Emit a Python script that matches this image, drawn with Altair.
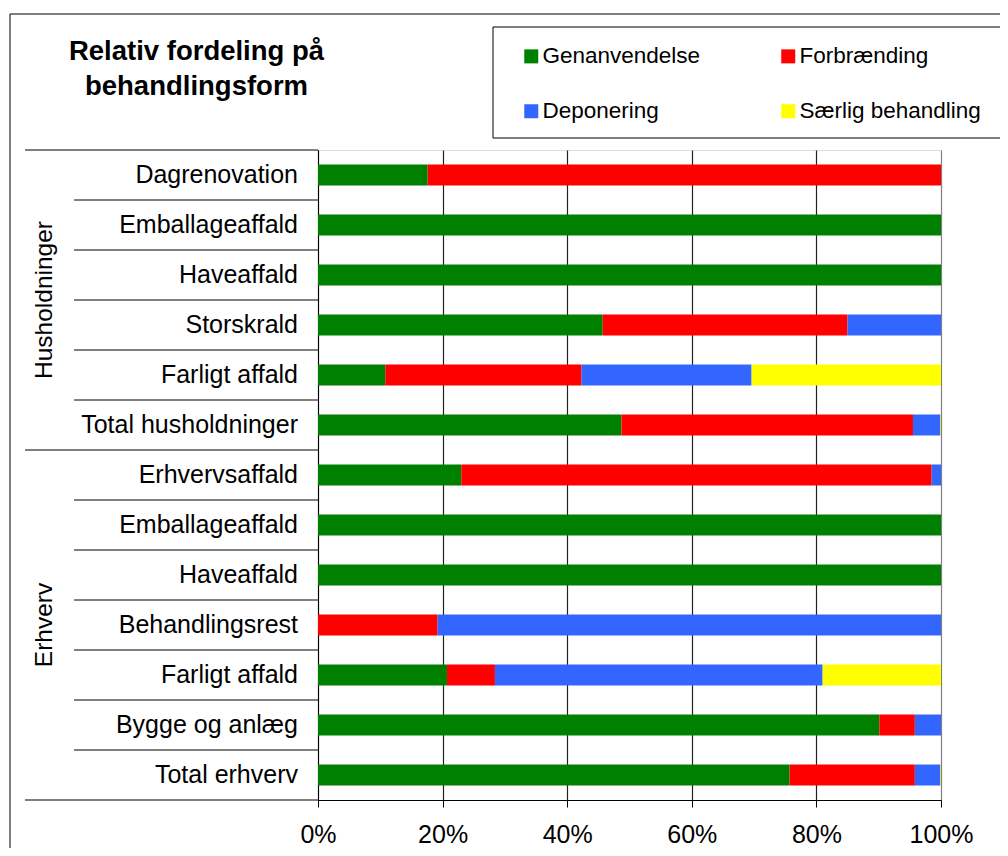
import altair as alt
import pandas as pd

FONT = "Liberation Sans"

categories = ["Dagrenovation", "Emballageaffald", "Haveaffald", "Storskrald",
              "Farligt affald", "Total husholdninger",
              "Erhvervsaffald", "Emballageaffald", "Haveaffald", "Behandlingsrest",
              "Farligt affald", "Bygge og anlæg", "Total erhverv"]
group_names = ["Husholdninger", "Erhverv"]
group_sizes = [6, 7]
forms = ["Genanvendelse", "Forbrænding", "Deponering", "Særlig behandling"]
colors = ["#008000", "#FF0000", "#3366FF", "#FFFF00"]

genanvendelse = [17.6, 100, 100, 45.7, 10.8, 48.7, 23.0, 100, 100, 0.0, 20.7, 90.1, 75.7]
forbraending = [82.4, 0, 0, 39.3, 31.5, 46.8, 75.5, 0, 0, 19.2, 7.7, 5.7, 20.1]
deponering = [0, 0, 0, 15.0, 27.3, 4.4, 1.5, 0, 0, 80.8, 52.6, 4.2, 4.1]
saerlig = [0, 0, 0, 0, 30.4, 0.1, 0, 0, 0, 0, 19.0, 0, 0.1]

x_ticks = [0, 20, 40, 60, 80, 100]
title_lines = ["Relativ fordeling på", "behandlingsform"]

# ---- tables built from the arrays above
n = len(categories)
keys = [f"{i:02d}" for i in range(n)]
rows_df = pd.DataFrame({"key": keys, "label": categories})
series = [genanvendelse, forbraending, deponering, saerlig]
long_rows = []
for i, k in enumerate(keys):
    for j, f in enumerate(forms):
        long_rows.append({"key": k, "form": f, "order": j, "value": series[j][i]})
long_df = pd.DataFrame(long_rows)

bounds = [0]
for s in group_sizes:
    bounds.append(bounds[-1] + s)
group_bounds_df = pd.DataFrame({"b": bounds})
inner_df = pd.DataFrame({"b": [b for b in range(1, n) if b not in bounds]})
centers = [(bounds[i] + bounds[i + 1]) / 2 for i in range(len(group_sizes))]
groups_df = pd.DataFrame({"g": group_names, "c": centers})

yband = alt.Scale(domain=keys, paddingInner=0.58, paddingOuter=0.29)
ylin = alt.Scale(domain=[0, n], reverse=True, nice=False, zero=False)

bars = alt.Chart(long_df).mark_bar().encode(
    x=alt.X("value:Q", stack="zero", scale=alt.Scale(domain=[0, 100], nice=False),
            axis=alt.Axis(values=x_ticks, labelExpr="datum.value + '%'", title=None,
                          labelFontSize=25, labelFont=FONT, labelColor="black",
                          labelPadding=15, tickSize=7, tickColor="black",
                          domainColor="black", grid=True,
                          gridColor={"condition": {"test": "datum.value === 100", "value": "#808080"},
                                     "value": "#222222"},
                          gridWidth=1.2, labelFlush=False)),
    y=alt.Y("key:O", scale=yband,
            axis=alt.Axis(labels=False, ticks=False, title=None, domain=True,
                          domainColor="black", grid=False)),
    color=alt.Color("form:N", scale=alt.Scale(domain=forms, range=colors),
                    legend=alt.Legend(orient="none", legendX=175, legendY=-123, columns=2,
                                      direction="horizontal",
                                      title=None, symbolType="square", symbolSize=196,
                                      symbolStrokeWidth=0, labelFontSize=22.5, labelFont=FONT,
                                      labelColor="black", labelLimit=300, labelOffset=0,
                                      symbolOffset=9, padding=18, rowPadding=32,
                                      columnPadding=67)),
    order=alt.Order("order:Q"),
)

labels = alt.Chart(rows_df).mark_text(align="right", baseline="middle", fontSize=25,
                                      font=FONT, color="black").encode(
    y=alt.Y("key:O", scale=yband, axis=None),
    x=alt.value(-20),
    text="label:N",
)

inner_lines = alt.Chart(inner_df).mark_rule(color="black", strokeWidth=1).encode(
    y=alt.Y("b:Q", scale=ylin, axis=None),
    x=alt.value(-244), x2=alt.value(0),
)

group_lines = alt.Chart(group_bounds_df).mark_rule(color="black", strokeWidth=1).encode(
    y=alt.Y("b:Q", scale=ylin, axis=None),
    x=alt.value(-293), x2=alt.value(0),
)

group_labels = alt.Chart(groups_df).mark_text(angle=270, align="center", baseline="middle",
                                              fontSize=24.5, font=FONT, color="black").encode(
    y=alt.Y("c:Q", scale=ylin, axis=None),
    x=alt.value(-273),
    text="g:N",
)

title = alt.Chart(alt.Data(values=[{}])).mark_text(
    text=title_lines, align="center", baseline="alphabetic", fontSize=27.5,
    fontWeight="bold", font=FONT, color="black", lineHeight=35,
).encode(x=alt.value(-121.5), y=alt.value(-90))

border = alt.Chart(alt.Data(values=[{}])).mark_rect(
    fill="transparent", stroke="black", strokeWidth=1
).encode(x=alt.value(-308), x2=alt.value(700), y=alt.value(-136), y2=alt.value(720))

legend_box = alt.Chart(alt.Data(values=[{}])).mark_rect(
    fill="white", stroke="black", strokeWidth=1
).encode(x=alt.value(175), x2=alt.value(700), y=alt.value(-123), y2=alt.value(-12))

chart = alt.layer(border, legend_box, bars, labels, inner_lines, group_lines, group_labels,
                  title).resolve_scale(
    y="independent"
).properties(
    width=623, height=650, autosize="none",
    padding={"left": 310, "top": 142, "right": 59, "bottom": 48},
    background="white",
).configure_view(fill="#C0C0C0", stroke="#808080", strokeWidth=1).configure(font=FONT)

chart.save("out.html", embed_options={"renderer": "svg", "actions": False})
